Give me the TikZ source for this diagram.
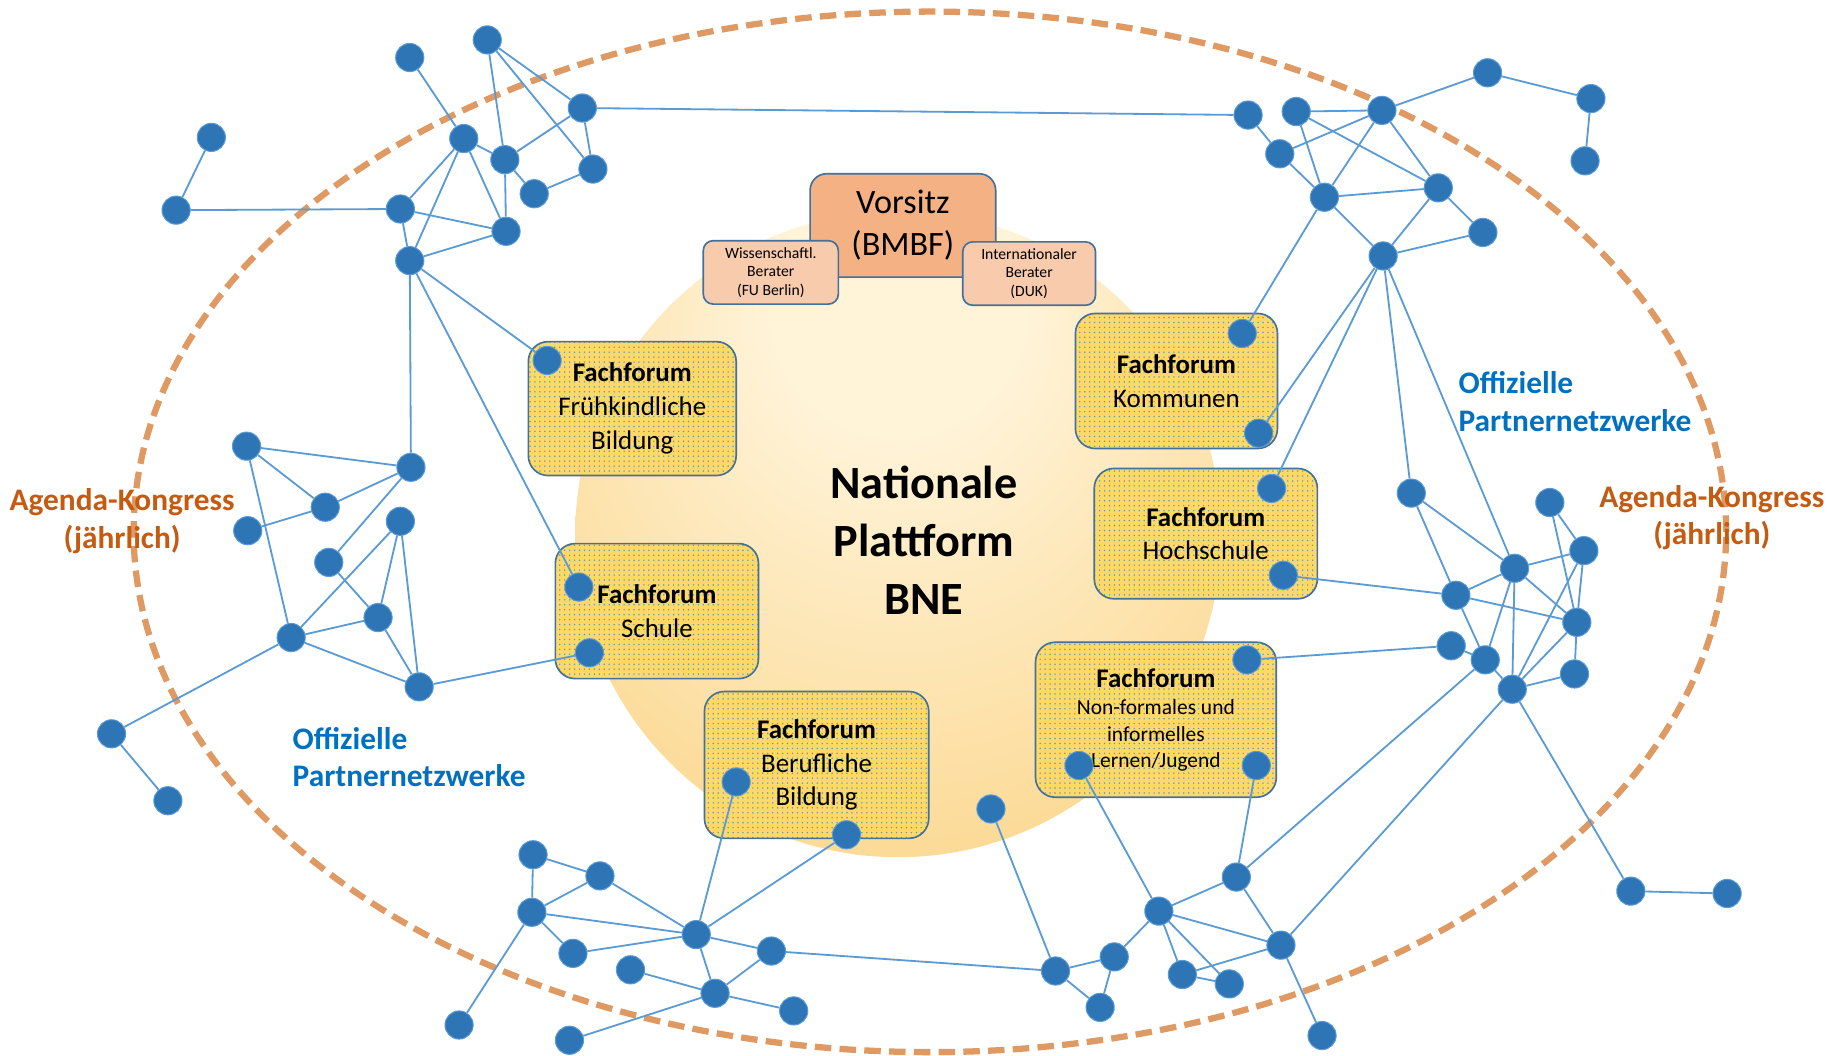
\documentclass[tikz,border=0pt]{standalone}
\usepackage{fontspec}
\setmainfont{Carlito}
\usetikzlibrary{patterns}
\definecolor{nodeblue}{RGB}{46,117,182}
\definecolor{edgeblue}{RGB}{91,155,213}
\definecolor{boxline}{RGB}{65,113,156}
\definecolor{ffyellow}{RGB}{255,217,102}
\definecolor{dotblue}{RGB}{95,150,200}
\definecolor{vorsitzc}{RGB}{244,177,131}
\definecolor{beraterc}{RGB}{248,203,173}
\definecolor{agendac}{RGB}{197,90,17}
\definecolor{partnerc}{RGB}{0,112,192}
\definecolor{dashc}{RGB}{223,153,99}
\definecolor{sunA}{RGB}{255,243,216}
\definecolor{sunB}{RGB}{250,206,118}
\pgfdeclareradialshading{sunshade}{\pgfpoint{0bp}{22bp}}{color(0bp)=(sunA); color(10bp)=(sunA); color(44bp)=(sunB); color(47bp)=(sunB); color(50bp)=(white)}
\pgfdeclarelayer{bg}
\pgfdeclarelayer{edges}
\pgfsetlayers{bg,edges,main}
\newcommand{\nfsize}{\fontsize{13}{15.6}\selectfont}
\tikzset{
  dot/.style={circle, fill=nodeblue, draw=edgeblue, line width=0.6pt, minimum size=0.6cm, inner sep=0pt},
  edge/.style={draw=edgeblue, line width=1.1pt},
  ffbox/.style={draw=boxline, line width=1pt, rounded corners=12pt, preaction={fill=ffyellow}, pattern=dots, pattern color=dotblue, align=center, inner sep=0pt, font=\fontsize{16.3}{20.5}\selectfont},
  chairbox/.style={draw=boxline, line width=1pt, rounded corners=10pt, fill=vorsitzc, align=center, inner sep=0pt, font=\fontsize{20.7}{25.5}\selectfont},
  advbox/.style={draw=boxline, line width=1pt, rounded corners=6pt, fill=beraterc, align=center, inner sep=0pt, font=\fontsize{9.5}{11.3}\selectfont},
  agendalabel/.style={text=agendac, align=center, font=\fontsize{19}{22.7}\selectfont\bfseries, inner sep=0pt},
  partnerlabel/.style={text=partnerc, align=left, anchor=west, font=\fontsize{19}{22.7}\selectfont\bfseries, inner sep=0pt},
}
\begin{document}
\begin{tikzpicture}[x=0.025cm, y=-0.025cm]
\useasboundingbox (0,0) rectangle (1568,899);
\begin{pgfonlayer}{bg}
  \fill[white] (0,0) rectangle (1568,899);
  \shade[shading=sunshade] (765,455) circle (6.875cm);
  \draw[dashc, line width=3.8pt, dash pattern=on 10pt off 5pt] (792,453) ellipse [x radius=16.95cm, y radius=11.075cm];
  \node[ffbox, minimum width=4.425cm, minimum height=2.85cm] (ffrueh) at (538.5,348) {\textbf{Fachforum}\\Frühkindliche\\Bildung};
  \node[ffbox, minimum width=4.325cm, minimum height=2.875cm] (fschule) at (559.5,520.5) {\textbf{Fachforum}\\Schule};
  \node[ffbox, minimum width=4.775cm, minimum height=3.125cm] (fberuf) at (695.5,651.5) {\textbf{Fachforum}\\Berufliche\\Bildung};
  \node[ffbox, minimum width=4.3cm, minimum height=2.875cm] (fkomm) at (1002,324.5) {\textbf{Fachforum}\\Kommunen};
  \node[ffbox, minimum width=4.75cm, minimum height=2.775cm] (fhoch) at (1027,454.5) {\textbf{Fachforum}\\Hochschule};
  \node[ffbox, minimum width=5.125cm, minimum height=3.3cm] (fnonf) at (984.5,613) {\textbf{Fachforum}\\[-3.8pt]\nfsize Non-formales und\\[-4.6pt]\nfsize informelles\\[-4.6pt]\nfsize Lernen/Jugend};
  \node[chairbox, minimum width=3.95cm, minimum height=2.2cm] (vorsitz) at (769,192) {Vorsitz\\(BMBF)};
  \node[advbox, minimum width=2.875cm, minimum height=1.35cm] (wiss) at (656.5,232) {Wissenschaftl.\\Berater\\(FU Berlin)};
  \node[advbox, minimum width=2.825cm, minimum height=1.35cm] (intl) at (876.5,233) {Internationaler\\Berater\\(DUK)};
\end{pgfonlayer}

\node[align=center, font=\fontsize{28}{35}\selectfont\bfseries, inner sep=0pt] (npbne) at (787,460) {Nationale\\Plattform\\BNE};
\node[agendalabel] (agL) at (104,444) {Agenda-Kongress\\(jährlich)};
\node[agendalabel] (agR) at (1458,441) {Agenda-Kongress\\(jährlich)};
\node[partnerlabel] (offL) at (249,645) {Offizielle\\Partnernetzwerke};
\node[partnerlabel] (offR) at (1242,342) {Offizielle\\Partnernetzwerke};

\foreach \n/\px/\py in {
 A1/349/49, A2/415/34, A3/496/92, A4/395/118, A5/430/136, A6/505/144, A7/455/165, A8/341/178, A9/431/197, A10/349/222, A11/180/117, A12/150/179,
 F1/466/307, S1/493/500, S2/502/556,
 L1/210/380, L2/350/398, L3/277/432, L4/211/452, L5/341/444, L6/280/479, L7/322/526, L8/248/543, L9/357/585, L10/95/625, L11/143/682,
 B1/1063/98, B2/1104/95, B3/1177/94, B4/1090/131, B5/1128/168, B6/1225/160, B7/1263/198, B8/1178/218, B9/1267/62, B10/1355/84, B11/1350/137,
 K1/1058/284, K2/1072/369, H1/1083/416, H2/1093/490,
 C1/1202/420, C2/1320/428, C3/1290/484, C4/1349/469, C5/1240/507, C6/1343/530, C7/1236/550, C8/1265/562, C9/1288/587, C10/1341/574, C11/1389/759, C12/1471/761,
 NF1/1062/562, NF2/919/652, NF3/1070/652,
 D1/844/689, D2/1053/747, D3/987/776, D4/1091/805, D5/899/827, D6/949/815, D7/1007/830, D8/1047/838, D9/937/858, D10/1126/882,
 BB1/627/666, BB2/721/711,
 E1/454/728, E2/511/746, E3/453/777, E4/593/796, E5/488/812, E6/657/810, E7/537/826, E8/609/846, E9/676/861, E10/391/873, E11/485/886}
 \node[dot] (\n) at (\px,\py) {};

\begin{pgfonlayer}{edges}
\foreach \a/\b in {
 A11/A12, A12/A8, A1/A4, A2/A3, A2/A5, A2/A6, A3/A5, A3/A6, A3/B1, A4/A5, A5/A7, A6/A7, A5/A9, A4/A8, A4/A9, A4/A10, A8/A9, A8/A10, A10/A9, A10/F1, A10/S1, A10/L2,
 L1/L2, L1/L3, L1/L8, L4/L3, L3/L2, L2/L6, L5/L8, L6/L7, L5/L7, L5/L9, L8/L7, L8/L9, L7/L9, L8/L10, L10/L11, L9/S2,
 B1/B4, B2/B3, B4/B3, B2/B5, B2/B6, B4/B5, B3/B5, B3/B6, B3/B9, B9/B10, B10/B11, B5/B6, B5/B8, B6/B8, B6/B7, B8/B7, B5/K1, B8/K2, B8/H1, B8/C1, B8/C3,
 C1/C5, C1/C3, H2/C5, C5/C3, C5/C6, C5/C8, C3/C4, C3/C6, C3/C8, C3/C9, C2/C4, C2/C6, C4/C6, C4/C9, C6/C9, C6/C10, C10/C9, C7/C8, C8/C9, C7/NF1, C8/D2, C9/D4, C9/C11, C11/C12,
 NF2/D3, NF3/D2, D2/D3, D2/D4, D3/D4, D3/D6, D3/D7, D3/D8, D7/D8, D7/D4, D4/D10, D5/D6, D5/D9, D6/D9, D5/D1, E6/D5,
 E1/E2, E1/E3, E2/E3, E2/E4, E3/E4, E3/E5, E3/E10, E5/E4, E4/BB1, E4/BB2, E4/E6, E4/E8, E7/E8, E6/E8, E8/E9, E8/E11}
 \draw[edge] (\a) -- (\b);
\end{pgfonlayer}
\end{tikzpicture}
\end{document}
